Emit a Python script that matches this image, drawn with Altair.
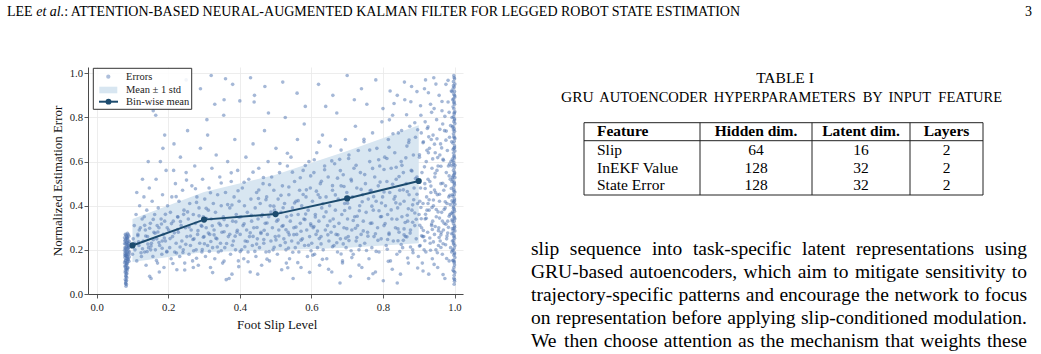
import altair as alt
import pandas as pd

SERIF = "Liberation Serif"

# ---------------- chart data ----------------
bin_centers = [0.1, 0.3, 0.5, 0.7, 0.9]
bin_means = [0.22, 0.337, 0.362, 0.433, 0.512]
band_lower = [0.145, 0.19, 0.198, 0.21, 0.23]
band_upper = [0.34, 0.462, 0.54, 0.648, 0.765]

strip_points = [(0.080,0.27),(0.084,0.26),(0.082,0.25),(0.087,0.245),(0.079,0.24),(0.085,0.235),(0.081,0.228),(0.088,0.222),(0.083,0.215),(0.079,0.21),(0.086,0.205),(0.082,0.2),(0.089,0.195),(0.080,0.19),(0.084,0.186),(0.087,0.18),(0.081,0.175),(0.085,0.17),(0.079,0.165),(0.083,0.16),(0.088,0.155),(0.080,0.15),(0.086,0.145),(0.082,0.14),(0.084,0.133),(0.079,0.127),(0.087,0.12),(0.081,0.113),(0.085,0.105),(0.080,0.097),(0.083,0.09),(0.081,0.082),(0.084,0.074),(0.080,0.066),(0.082,0.058),(0.081,0.05),(0.083,0.043),(0.082,0.035),(0.086,0.275),(0.090,0.262),(0.091,0.238),(0.090,0.212),(0.092,0.19),(0.091,0.168),(0.090,0.148),(0.078,0.255),(0.078,0.198),(0.078,0.142),(0.085,0.255),(0.089,0.231),(0.083,0.178),(0.087,0.158),(0.080,0.122),(0.084,0.112)]

strip2_points = [(0.082,0.266),(0.086,0.252),(0.080,0.243),(0.084,0.232),(0.088,0.218),(0.081,0.207),(0.085,0.193),(0.079,0.183),(0.083,0.171),(0.087,0.163),(0.081,0.152),(0.085,0.138),(0.082,0.129),(0.086,0.117),(0.080,0.104),(0.084,0.094),(0.082,0.078),(0.083,0.062),(0.081,0.047),(0.089,0.208),(0.090,0.181),(0.078,0.228),(0.079,0.175),(0.088,0.268),(0.085,0.222)]

low_points = [(0.10,0.18),(0.102,0.25),(0.105,0.31),(0.107,0.2),(0.11,0.36),(0.112,0.15),(0.115,0.27),(0.118,0.22),(0.12,0.4),(0.122,0.3),(0.125,0.17),(0.127,0.34),(0.13,0.24),(0.132,0.44),(0.134,0.19),(0.136,0.29),(0.138,0.13),(0.14,0.38),(0.142,0.26),(0.145,0.21),(0.147,0.48),(0.148,0.08),(0.15,0.32),(0.152,0.07),(0.153,0.23),(0.155,0.42),(0.157,0.17),(0.158,0.83),(0.16,0.28),(0.162,0.36),(0.164,0.2),(0.166,0.52),(0.168,0.25),(0.17,0.14),(0.172,0.39),(0.174,0.3),(0.176,0.22),(0.178,0.6),(0.18,0.34),(0.182,0.18),(0.184,0.45),(0.186,0.27),(0.188,0.12),(0.19,0.33),(0.192,0.24),(0.194,0.56),(0.196,0.19),(0.198,0.4),(0.165,0.81),(0.185,0.66),(0.112,0.46),(0.128,0.52),(0.19,0.72),(0.144,0.6),(0.175,0.1),(0.106,0.23),(0.119,0.29),(0.133,0.35),(0.151,0.2),(0.169,0.31),(0.183,0.24),(0.197,0.3)]

mid_points = [(0.201,0.29),(0.204,0.21),(0.206,0.37),(0.208,0.16),(0.21,0.44),(0.212,0.26),(0.214,0.33),(0.216,0.68),(0.218,0.19),(0.22,0.5),(0.222,0.23),(0.224,0.11),(0.226,0.35),(0.228,0.28),(0.23,0.42),(0.232,0.17),(0.234,0.62),(0.236,0.31),(0.238,0.24),(0.24,0.47),(0.242,0.2),(0.244,0.38),(0.246,0.14),(0.248,0.3),(0.25,0.55),(0.252,0.26),(0.254,0.74),(0.256,0.34),(0.258,0.18),(0.26,0.41),(0.262,0.22),(0.264,0.29),(0.266,0.49),(0.268,0.15),(0.27,0.36),(0.272,0.25),(0.274,0.58),(0.276,0.32),(0.278,0.2),(0.28,0.44),(0.282,0.27),(0.284,0.13),(0.286,0.39),(0.288,0.23),(0.29,0.66),(0.292,0.31),(0.294,0.19),(0.296,0.52),(0.298,0.35),(0.3,0.26),(0.302,0.43),(0.304,0.17),(0.306,0.3),(0.308,0.79),(0.31,0.22),(0.312,0.38),(0.314,0.48),(0.316,0.27),(0.318,0.12),(0.32,0.34),(0.322,0.57),(0.324,0.21),(0.326,0.41),(0.328,0.29),(0.33,0.16),(0.332,0.37),(0.334,0.63),(0.336,0.25),(0.338,0.45),(0.34,0.19),(0.342,0.32),(0.344,0.53),(0.346,0.23),(0.348,0.4),(0.35,0.28),(0.352,0.14),(0.354,0.35),(0.356,0.88),(0.358,0.21),(0.36,0.46),(0.362,0.065),(0.364,0.31),(0.366,0.6),(0.368,0.26),(0.37,0.07),(0.372,0.39),(0.374,0.18),(0.376,0.51),(0.378,0.09),(0.38,0.33),(0.382,0.24),(0.384,0.44),(0.386,0.7),(0.388,0.2),(0.39,0.36),(0.392,0.28),(0.394,0.56),(0.396,0.15),(0.398,0.42),(0.25,0.97),(0.29,0.93),(0.33,0.86),(0.27,0.12),(0.215,0.56),(0.31,0.72),(0.32,0.99),(0.36,0.975),(0.38,0.95),(0.4,0.875),(0.355,0.81)]

centre_points = [(0.401,0.27),(0.403,0.35),(0.405,0.2),(0.407,0.48),(0.409,0.31),(0.411,0.16),(0.413,0.4),(0.415,0.24),(0.417,0.62),(0.419,0.29),(0.421,0.37),(0.423,0.19),(0.425,0.52),(0.427,0.26),(0.429,0.1),(0.431,0.43),(0.433,0.33),(0.435,0.22),(0.437,0.68),(0.439,0.3),(0.441,0.9),(0.443,0.39),(0.445,0.17),(0.447,0.46),(0.449,0.25),(0.451,0.34),(0.453,0.57),(0.455,0.21),(0.457,0.41),(0.459,0.28),(0.461,0.13),(0.463,0.36),(0.465,0.5),(0.467,0.23),(0.469,0.74),(0.471,0.32),(0.473,0.19),(0.475,0.44),(0.477,0.27),(0.479,0.6),(0.481,0.35),(0.483,0.15),(0.485,0.4),(0.487,0.24),(0.489,0.53),(0.491,0.3),(0.493,0.2),(0.495,0.47),(0.497,0.38),(0.499,0.26),(0.501,0.66),(0.503,0.33),(0.505,0.18),(0.507,0.43),(0.509,0.29),(0.511,0.55),(0.513,0.22),(0.515,0.37),(0.517,0.11),(0.519,0.49),(0.521,0.31),(0.523,0.25),(0.525,0.41),(0.527,0.8),(0.529,0.2),(0.531,0.35),(0.533,0.58),(0.535,0.28),(0.537,0.45),(0.539,0.16),(0.541,0.33),(0.543,0.62),(0.545,0.24),(0.547,0.39),(0.549,0.07),(0.551,0.3),(0.553,0.51),(0.555,0.21),(0.557,0.42),(0.559,0.27),(0.561,0.7),(0.563,0.36),(0.565,0.19),(0.567,0.47),(0.569,0.32),(0.571,0.12),(0.573,0.4),(0.575,0.25),(0.577,0.56),(0.579,0.34),(0.581,0.22),(0.583,0.85),(0.585,0.44),(0.587,0.29),(0.589,0.17),(0.591,0.38),(0.593,0.6),(0.595,0.26),(0.597,0.48),(0.599,0.31),(0.43,0.98),(0.47,0.94),(0.52,0.96),(0.56,0.91),(0.48,0.82),(0.58,0.77),(0.45,0.09),(0.53,0.14),(0.44,0.87)]

upper_points = [(0.601,0.23),(0.603,0.42),(0.605,0.3),(0.607,0.55),(0.609,0.18),(0.611,0.36),(0.613,0.27),(0.615,0.64),(0.617,0.21),(0.619,0.45),(0.621,0.33),(0.623,0.13),(0.625,0.5),(0.627,0.26),(0.629,0.39),(0.631,0.72),(0.633,0.2),(0.635,0.35),(0.637,0.58),(0.639,0.29),(0.641,0.44),(0.643,0.16),(0.645,0.31),(0.647,0.53),(0.649,0.24),(0.651,0.4),(0.653,0.67),(0.655,0.28),(0.657,0.1),(0.659,0.47),(0.661,0.34),(0.663,0.22),(0.665,0.59),(0.667,0.38),(0.669,0.27),(0.671,0.82),(0.673,0.19),(0.675,0.43),(0.677,0.32),(0.679,0.61),(0.681,0.25),(0.683,0.49),(0.685,0.36),(0.687,0.15),(0.689,0.54),(0.691,0.3),(0.693,0.41),(0.695,0.7),(0.697,0.21),(0.699,0.46),(0.701,0.34),(0.703,0.26),(0.705,0.63),(0.707,0.39),(0.709,0.08),(0.711,0.52),(0.713,0.29),(0.715,0.44),(0.717,0.18),(0.719,0.57),(0.721,0.35),(0.723,0.76),(0.725,0.24),(0.727,0.48),(0.729,0.31),(0.731,0.65),(0.733,0.2),(0.735,0.4),(0.737,0.55),(0.739,0.27),(0.741,0.12),(0.743,0.45),(0.745,0.33),(0.747,0.69),(0.749,0.23),(0.751,0.5),(0.753,0.37),(0.755,0.86),(0.757,0.28),(0.759,0.43),(0.761,0.16),(0.763,0.6),(0.765,0.32),(0.767,0.47),(0.769,0.21),(0.771,0.73),(0.773,0.38),(0.775,0.26),(0.777,0.53),(0.779,0.1),(0.781,0.42),(0.783,0.66),(0.785,0.3),(0.787,0.49),(0.789,0.19),(0.791,0.58),(0.793,0.35),(0.795,0.25),(0.797,0.78),(0.799,0.44),(0.801,0.06),(0.803,0.31),(0.805,0.62),(0.807,0.4),(0.809,0.22),(0.811,0.51),(0.813,0.36),(0.815,0.7),(0.817,0.27),(0.819,0.46),(0.821,0.15),(0.823,0.57),(0.825,0.34),(0.827,0.81),(0.829,0.24),(0.831,0.43),(0.833,0.64),(0.835,0.3),(0.837,0.52),(0.839,0.18),(0.841,0.39),(0.843,0.73),(0.845,0.28),(0.847,0.47),(0.849,0.09),(0.851,0.6),(0.853,0.35),(0.855,0.21),(0.857,0.55),(0.859,0.42),(0.861,0.88),(0.863,0.26),(0.865,0.5),(0.867,0.67),(0.869,0.33),(0.871,0.14),(0.873,0.45),(0.875,0.76),(0.877,0.29),(0.879,0.56),(0.881,0.38),(0.883,0.2),(0.885,0.63),(0.887,0.48),(0.889,0.31),(0.891,0.71),(0.893,0.25),(0.895,0.53),(0.897,0.41),(0.899,0.17),(0.62,0.95),(0.66,0.9),(0.7,0.99),(0.74,0.93),(0.78,0.97),(0.82,0.92),(0.86,0.96),(0.64,0.85),(0.72,0.88),(0.8,0.84),(0.84,0.9),(0.88,0.94),(0.68,0.05),(0.76,0.07),(0.84,0.05)]

right_points = [(0.901,0.36),(0.902,0.62),(0.904,0.22),(0.905,0.48),(0.906,0.81),(0.908,0.3),(0.909,0.55),(0.91,0.14),(0.912,0.41),(0.913,0.69),(0.914,0.26),(0.916,0.93),(0.917,0.5),(0.918,0.34),(0.92,0.19),(0.921,0.6),(0.922,0.44),(0.924,0.75),(0.925,0.28),(0.926,0.52),(0.928,0.09),(0.929,0.38),(0.93,0.66),(0.932,0.23),(0.933,0.86),(0.934,0.46),(0.936,0.31),(0.937,0.57),(0.938,0.16),(0.94,0.72),(0.941,0.4),(0.942,0.98),(0.944,0.27),(0.945,0.53),(0.946,0.64),(0.948,0.2),(0.949,0.35),(0.95,0.79),(0.952,0.45),(0.953,0.12),(0.954,0.58),(0.956,0.3),(0.957,0.9),(0.958,0.42),(0.96,0.24),(0.961,0.68),(0.962,0.5),(0.964,0.37),(0.965,0.83),(0.966,0.18),(0.968,0.61),(0.969,0.29),(0.97,0.47),(0.972,0.74),(0.973,0.07),(0.974,0.39),(0.976,0.95),(0.977,0.55),(0.978,0.25),(0.98,0.65),(0.981,0.33),(0.982,0.87),(0.984,0.44),(0.985,0.15),(0.986,0.71),(0.988,0.52),(0.989,0.21),(0.99,0.6),(0.903,0.42),(0.915,0.2),(0.927,0.64),(0.939,0.33),(0.951,0.56),(0.963,0.28),(0.975,0.49),(0.987,0.36),(0.907,0.73),(0.919,0.97),(0.931,0.51),(0.943,0.84),(0.955,0.22),(0.967,0.77),(0.979,0.41),(0.991,0.92),(0.911,0.26),(0.923,0.38),(0.935,0.7),(0.947,0.46),(0.959,0.63),(0.971,0.32),(0.983,0.58),(0.992,0.19),(0.993,0.8),(0.994,0.45)]

edge_points = [(0.998,0.99),(1.0,0.975),(0.997,0.962),(1.001,0.951),(0.999,0.938),(0.996,0.93),(1.0,0.917),(0.998,0.905),(1.001,0.893),(0.997,0.884),(0.999,0.871),(1.0,0.86),(0.996,0.848),(0.998,0.839),(1.001,0.826),(0.999,0.815),(0.997,0.803),(1.0,0.794),(0.998,0.781),(1.001,0.772),(0.996,0.76),(0.999,0.749),(1.0,0.737),(0.997,0.726),(0.998,0.714),(1.001,0.705),(0.999,0.692),(0.996,0.683),(1.0,0.671),(0.998,0.66),(1.001,0.648),(0.997,0.639),(0.999,0.627),(1.0,0.616),(0.996,0.604),(0.998,0.595),(1.001,0.583),(0.999,0.572),(0.997,0.56),(1.0,0.551),(0.998,0.539),(1.001,0.528),(0.996,0.517),(0.999,0.506),(1.0,0.494),(0.997,0.485),(0.998,0.473),(1.001,0.462),(0.999,0.45),(0.996,0.441),(1.0,0.43),(0.998,0.418),(1.001,0.407),(0.997,0.396),(0.999,0.384),(1.0,0.375),(0.996,0.363),(0.998,0.352),(1.001,0.341),(0.999,0.33),(0.997,0.318),(1.0,0.309),(0.998,0.297),(1.001,0.286),(0.996,0.274),(0.999,0.265),(1.0,0.253),(0.997,0.242),(0.998,0.231),(1.001,0.22),(0.999,0.208),(0.996,0.199),(1.0,0.187),(0.998,0.176),(1.001,0.165),(0.997,0.153),(0.999,0.142),(1.0,0.131),(0.998,0.12),(0.996,0.108),(1.001,0.097),(0.999,0.085),(0.998,0.071),(1.0,0.058),(0.999,0.044),(0.993,0.51),(0.994,0.33),(0.992,0.69),(0.995,0.88),(0.994,0.24)]

edge2_points = [(0.999,0.981),(0.997,0.944),(1.0,0.899),(0.998,0.866),(0.999,0.821),(1.0,0.788),(0.997,0.743),(0.999,0.708),(1.0,0.663),(0.998,0.622),(0.997,0.587),(1.0,0.545),(0.999,0.501),(0.998,0.466),(1.0,0.423),(0.997,0.389),(0.999,0.346),(1.0,0.302),(0.998,0.259),(0.997,0.226),(1.0,0.181),(0.999,0.147),(0.998,0.103),(1.0,0.066),(0.996,0.412),(0.996,0.287),(0.996,0.534),(0.996,0.655),(0.995,0.372),(0.995,0.198),(0.994,0.611),(0.993,0.422),(0.992,0.273),(0.995,0.756),(0.994,0.527),(0.993,0.336),(0.991,0.478),(0.995,0.152),(0.992,0.581),(0.993,0.917)]

core_points = [(0.137,0.263),(0.412,0.318),(0.689,0.227),(0.254,0.372),(0.913,0.288),(0.571,0.244),(0.348,0.196),(0.796,0.351),(0.183,0.207),(0.632,0.409),(0.459,0.274),(0.877,0.213),(0.226,0.292),(0.745,0.286),(0.521,0.391),(0.301,0.228),(0.958,0.344),(0.604,0.176),(0.158,0.338),(0.834,0.442),(0.387,0.262),(0.713,0.165),(0.279,0.415),(0.941,0.236),(0.496,0.212),(0.652,0.331),(0.117,0.236),(0.769,0.398),(0.432,0.356),(0.889,0.367),(0.205,0.251),(0.557,0.303),(0.323,0.309),(0.981,0.276),(0.674,0.268),(0.241,0.188),(0.813,0.247),(0.473,0.427),(0.592,0.221),(0.366,0.405),(0.926,0.41),(0.148,0.298),(0.728,0.352),(0.401,0.192),(0.859,0.295),(0.538,0.268),(0.269,0.247),(0.967,0.502),(0.617,0.285),(0.192,0.361),(0.781,0.193),(0.448,0.301),(0.701,0.411),(0.312,0.276),(0.895,0.452),(0.584,0.362),(0.128,0.205),(0.823,0.381),(0.356,0.337),(0.659,0.214),(0.234,0.328),(0.952,0.187),(0.507,0.336),(0.758,0.262),(0.421,0.238),(0.867,0.259),(0.286,0.354),(0.548,0.189),(0.174,0.233),(0.936,0.317),(0.641,0.372),(0.379,0.221),(0.806,0.319),(0.467,0.247),(0.723,0.298),(0.217,0.277),(0.988,0.405),(0.598,0.318),(0.333,0.253),(0.851,0.224),(0.487,0.371),(0.696,0.253),(0.163,0.275),(0.774,0.441),(0.442,0.193),(0.908,0.264),(0.563,0.423),(0.295,0.201),(0.839,0.339),(0.622,0.251),(0.249,0.225),(0.975,0.223),(0.527,0.233),(0.736,0.219),(0.393,0.289),(0.883,0.404),(0.143,0.226),(0.667,0.449),(0.306,0.388),(0.919,0.361)]

core2_points = [(0.124,0.187),(0.356,0.282),(0.582,0.337),(0.817,0.276),(0.209,0.319),(0.447,0.226),(0.693,0.378),(0.931,0.254),(0.271,0.196),(0.509,0.263),(0.742,0.418),(0.158,0.246),(0.398,0.348),(0.627,0.227),(0.868,0.357),(0.233,0.213),(0.476,0.322),(0.711,0.196),(0.954,0.372),(0.319,0.238),(0.553,0.412),(0.786,0.243),(0.181,0.317),(0.429,0.277),(0.664,0.306),(0.902,0.217),(0.294,0.307),(0.536,0.208),(0.769,0.321),(0.141,0.192),(0.378,0.403),(0.611,0.349),(0.847,0.192),(0.262,0.263),(0.495,0.398),(0.727,0.256),(0.968,0.228),(0.337,0.213),(0.571,0.284),(0.803,0.462),(0.196,0.193),(0.452,0.433),(0.683,0.181),(0.918,0.478),(0.307,0.342),(0.544,0.357),(0.779,0.273),(0.115,0.264),(0.363,0.229),(0.599,0.196),(0.836,0.413),(0.243,0.361),(0.482,0.192),(0.717,0.333),(0.946,0.306),(0.283,0.287),(0.518,0.307),(0.754,0.197),(0.171,0.281),(0.414,0.214),(0.646,0.268),(0.883,0.325),(0.223,0.186),(0.461,0.353),(0.699,0.296),(0.937,0.392),(0.328,0.268),(0.563,0.231),(0.796,0.412),(0.152,0.217),(0.389,0.327),(0.624,0.437),(0.859,0.268),(0.258,0.304),(0.501,0.245),(0.734,0.377),(0.976,0.316),(0.346,0.312),(0.577,0.451),(0.812,0.203),(0.189,0.254),(0.437,0.261),(0.671,0.232),(0.907,0.341),(0.298,0.257),(0.529,0.291),(0.764,0.468),(0.134,0.311),(0.372,0.271),(0.607,0.306),(0.842,0.241),(0.227,0.349),(0.468,0.289),(0.705,0.242),(0.941,0.426),(0.315,0.193),(0.551,0.269),(0.789,0.377),(0.962,0.268),(0.985,0.352)]

wide_points = [(0.712,0.512),(0.853,0.583),(0.614,0.466),(0.946,0.547),(0.788,0.608),(0.537,0.485),(0.902,0.631),(0.681,0.559),(0.964,0.662),(0.827,0.497),(0.466,0.528),(0.749,0.541),(0.928,0.712),(0.583,0.582),(0.872,0.686),(0.395,0.468),(0.803,0.564),(0.657,0.603),(0.986,0.589),(0.515,0.447),(0.763,0.652),(0.891,0.523),(0.348,0.503),(0.628,0.511),(0.953,0.618),(0.725,0.583),(0.437,0.552),(0.817,0.665),(0.569,0.527),(0.934,0.489),(0.691,0.487),(0.276,0.477),(0.845,0.532),(0.608,0.608),(0.977,0.738),(0.483,0.495),(0.739,0.474),(0.864,0.617),(0.222,0.441),(0.547,0.552),(0.916,0.576),(0.673,0.525),(0.792,0.507),(0.412,0.506),(0.958,0.452),(0.637,0.563),(0.828,0.726),(0.318,0.459),(0.704,0.614),(0.897,0.744),(0.512,0.591),(0.771,0.569),(0.944,0.679),(0.586,0.472),(0.857,0.472),(0.453,0.471),(0.683,0.652),(0.985,0.535),(0.251,0.516),(0.621,0.688),(0.811,0.614),(0.923,0.651),(0.533,0.638),(0.747,0.701),(0.376,0.549),(0.881,0.557),(0.659,0.491),(0.969,0.606),(0.598,0.535),(0.837,0.574)]

floor_points = [(0.213,0.138),(0.397,0.124),(0.562,0.142),(0.733,0.131),(0.897,0.118),(0.324,0.097),(0.648,0.112),(0.815,0.148),(0.476,0.158),(0.943,0.134),(0.279,0.162),(0.595,0.098),(0.772,0.092),(0.423,0.146),(0.869,0.163),(0.968,0.088),(0.167,0.152),(0.687,0.141),(0.534,0.119),(0.912,0.104),(0.356,0.149),(0.826,0.112),(0.631,0.157),(0.978,0.161),(0.246,0.109)]

tail_points = [(0.903,0.311),(0.917,0.241),(0.929,0.427),(0.938,0.292),(0.949,0.383),(0.957,0.256),(0.966,0.331),(0.974,0.418),(0.983,0.302),(0.991,0.366),(0.906,0.392),(0.921,0.343),(0.933,0.198),(0.944,0.471),(0.955,0.287),(0.962,0.211),(0.971,0.383),(0.979,0.263),(0.987,0.447),(0.994,0.297),(0.862,0.324),(0.871,0.386),(0.884,0.187),(0.893,0.339),(0.848,0.408),(0.857,0.243),(0.876,0.276),(0.886,0.427),(0.842,0.295),(0.868,0.464),(0.905,0.853),(0.918,0.78),(0.927,0.912),(0.936,0.823),(0.948,0.951),(0.959,0.746),(0.965,0.872),(0.973,0.805),(0.982,0.968),(0.989,0.763),(0.912,0.685),(0.926,0.757),(0.939,0.612),(0.951,0.703),(0.962,0.579),(0.976,0.697),(0.985,0.823),(0.866,0.812),(0.878,0.871),(0.889,0.776),(0.852,0.741),(0.873,0.698),(0.895,0.917),(0.831,0.863),(0.818,0.789)]

x_ticks = [0.0, 0.2, 0.4, 0.6, 0.8, 1.0]
y_ticks = [0.0, 0.2, 0.4, 0.6, 0.8, 1.0]
x_title = "Foot Slip Level"
y_title = "Normalized Estimation Error"
legend_labels = ["Errors", "Mean \u00b1 1 std", "Bin-wise mean"]

# ---------------- page text ----------------
header_name = "LEE"
header_etal = "et al."
header_title = ": ATTENTION-BASED NEURAL-AUGMENTED KALMAN FILTER FOR LEGGED ROBOT STATE ESTIMATION"
page_number = "3"

table_label = "TABLE I"
caption_caps = "GRU"
caption_smallcaps = ["AUTOENCODER", "HYPERPARAMETERS", "BY", "INPUT", "FEATURE"]
table_header = ["Feature", "Hidden dim.", "Latent dim.", "Layers"]
table_features = ["Slip", "InEKF Value", "State Error"]
table_hidden = [64, 128, 128]
table_latent = [16, 32, 32]
table_layers = [2, 2, 2]

paragraph = [
    "slip sequence into task-specific latent representations using",
    "GRU-based autoencoders, which aim to mitigate sensitivity to",
    "trajectory-specific patterns and encourage the network to focus",
    "on representation before applying slip-conditioned modulation.",
    "We then choose attention as the mechanism that weights these",
]

# ---------------- style / layout ----------------
POINT = "#4c72b0"
BAND = "#d8e6f1"
LINE = "#1c4b6e"
GRID = "#e8e8e8"
SPINE = "#4a4a4a"

OX, OY = 88, 67          # plot origin in page pixels
PW, PH = 375, 227        # plot area size
W, H = 1041, 354

TIMES_W = dict(zip("abcdefghijklmnopqrstuvwxyz",
                   [444, 500, 444, 500, 444, 333, 500, 500, 278, 278, 500, 278, 778,
                    500, 500, 500, 500, 333, 389, 278, 500, 500, 722, 500, 500, 444]))
TIMES_W.update(zip("ABCDEFGHIJKLMNOPQRSTUVWXYZ",
                   [722, 667, 667, 722, 611, 556, 722, 722, 333, 389, 722, 611, 889,
                    722, 722, 556, 722, 667, 556, 611, 722, 722, 944, 722, 722, 611]))
TIMES_W.update({" ": 250, ".": 250, ",": 250, ":": 278, "-": 333})
ITAL_W = {"e": 444, "t": 278, " ": 250, "a": 500, "l": 278, ".": 250}


def tw(s, size, table=TIMES_W):
    return sum(table.get(c, 500) for c in s) * size / 1000.0


one = pd.DataFrame({"k": [0]})


def label(text, x, y, size, align="left", weight="normal", style="normal", color="#111111"):
    return alt.Chart(pd.DataFrame({"t": [str(text)]})).mark_text(
        align=align, baseline="alphabetic", font=SERIF, fontSize=size,
        fontWeight=weight, fontStyle=style, color=color
    ).encode(x=alt.value(x - OX), y=alt.value(y - OY), text="t:N")


def hline(x1, x2, y, color="#222222", w=1.0):
    return alt.Chart(one).mark_rule(color=color, strokeWidth=w).encode(
        x=alt.value(x1 - OX), x2=alt.value(x2 - OX), y=alt.value(y - OY))


def vline(x, y1, y2, color="#222222", w=1.0):
    return alt.Chart(one).mark_rule(color=color, strokeWidth=w).encode(
        x=alt.value(x - OX), y=alt.value(y1 - OY), y2=alt.value(y2 - OY))


def box(x1, x2, y1, y2, stroke="#222222", w=1.0, fill="white", fill_opacity=0.0):
    return alt.Chart(one).mark_rect(stroke=stroke, strokeWidth=w, fill=fill,
                                     fillOpacity=fill_opacity).encode(
        x=alt.value(x1 - OX), x2=alt.value(x2 - OX),
        y=alt.value(y1 - OY), y2=alt.value(y2 - OY))


# ---------------- chart ----------------
xs = alt.Scale(domain=[-0.0243, 1.0237], nice=False, zero=False)
ys = alt.Scale(domain=[0.0, 1.0285], nice=False, zero=False)

xaxis = alt.Axis(values=x_ticks, format=".1f", title=x_title, grid=True,
                 gridColor=GRID, gridWidth=0.8, domainColor=SPINE, domainWidth=1,
                 tickColor=SPINE, tickSize=4, tickWidth=0.9,
                 labelFont=SERIF, labelFontSize=10.7, labelColor="#222222",
                 labelPadding=12.5, labelBaseline="alphabetic", labelFlush=False,
                 titleFont=SERIF, titleFontSize=12.9, titleFontWeight="normal",
                 titleColor="#111111", titleX=188.7, titleY=34,
                 titleAlign="center", titleBaseline="alphabetic")
yaxis = alt.Axis(values=y_ticks, format=".1f", title=y_title, grid=True,
                 gridColor=GRID, gridWidth=0.8, domainColor=SPINE, domainWidth=1,
                 tickColor=SPINE, tickSize=4, tickWidth=0.9,
                 labelFont=SERIF, labelFontSize=10.7, labelColor="#222222",
                 labelPadding=1.5, labelFlush=False,
                 titleFont=SERIF, titleFontSize=12.9, titleFontWeight="normal",
                 titleColor="#111111", titleX=-31, titleY=113.5, titleAngle=270,
                 titleAlign="center", titleBaseline="middle")

band_df = pd.DataFrame({"x": bin_centers, "lo": band_lower, "hi": band_upper})
mean_df = pd.DataFrame({"x": bin_centers, "y": bin_means})
all_pts = (strip_points + strip2_points + low_points + mid_points + centre_points
           + upper_points + right_points + edge_points + edge2_points + core_points
           + core2_points + wide_points + floor_points + tail_points)
pts_df = pd.DataFrame({"x": [p[0] for p in all_pts], "y": [p[1] for p in all_pts]})

band = alt.Chart(band_df).mark_area(color=BAND, opacity=1).encode(
    x=alt.X("x:Q", scale=xs, axis=xaxis),
    y=alt.Y("lo:Q", scale=ys, axis=yaxis),
    y2="hi:Q")
scatter = alt.Chart(pts_df).mark_circle(size=13, color=POINT, opacity=0.5).encode(
    x=alt.X("x:Q", scale=xs, axis=xaxis),
    y=alt.Y("y:Q", scale=ys, axis=yaxis))
mean_line = alt.Chart(mean_df).mark_line(color=LINE, strokeWidth=2).encode(
    x=alt.X("x:Q", scale=xs, axis=xaxis),
    y=alt.Y("y:Q", scale=ys, axis=yaxis))
mean_pts = alt.Chart(mean_df).mark_circle(size=38, color=LINE, opacity=1).encode(
    x=alt.X("x:Q", scale=xs, axis=xaxis),
    y=alt.Y("y:Q", scale=ys, axis=yaxis))

layers = [band, scatter, mean_line, mean_pts]

# legend (manual, inside the plot, top-left)
layers.append(box(93.3, 191.7, 68.3, 109.3, stroke="#333333", w=1.0, fill="white", fill_opacity=0.85))
layers.append(alt.Chart(one).mark_circle(size=18, color=POINT, opacity=0.45).encode(
    x=alt.value(108.3 - OX), y=alt.value(76.7 - OY)))
layers.append(alt.Chart(one).mark_rect(color=BAND).encode(
    x=alt.value(99.3 - OX), x2=alt.value(117.3 - OX), y=alt.value(86.7 - OY), y2=alt.value(93.3 - OY)))
layers.append(hline(99, 118, 101.7, color=LINE, w=2))
layers.append(alt.Chart(one).mark_circle(size=34, color=LINE, opacity=1).encode(
    x=alt.value(108.5 - OX), y=alt.value(101.7 - OY)))
for lab, yy in zip(legend_labels, [80.2, 92.7, 105.2]):
    layers.append(label(lab, 126, yy, 10.5, color="#222222"))

# running header
HS = 14.0
layers.append(label(header_name, 7, 16, HS, color="#000000"))
x_etal = 7 + tw(header_name + " ", HS)
layers.append(label(header_etal, x_etal, 16, HS, style="italic", color="#000000"))
layers.append(label(header_title, x_etal + tw(header_etal, HS, ITAL_W), 16, HS, color="#000000"))
layers.append(label(page_number, 1032, 16, HS, align="right", color="#000000"))

# table title and caption
layers.append(label(table_label, 785, 83.3, 15.5, align="center", color="#000000"))
CAP_L, CAP_R, CAP_Y = 561, 1002, 101.7
cap_big, cap_small = 15.5, 14.5
x_cur = CAP_L
layers.append(label(caption_caps, x_cur, CAP_Y, cap_big, color="#000000"))
sc_widths = [tw(w, cap_small) for w in caption_smallcaps]
gap = (CAP_R - CAP_L - tw(caption_caps, cap_big) - sum(sc_widths)) / len(caption_smallcaps)
x_cur += tw(caption_caps, cap_big) + gap
for i, (wd, wwid) in enumerate(zip(caption_smallcaps, sc_widths)):
    if i == len(caption_smallcaps) - 1:
        layers.append(label(wd, CAP_R, CAP_Y, cap_small, align="right", color="#000000"))
    else:
        layers.append(label(wd, x_cur, CAP_Y, cap_small, color="#000000"))
    x_cur += wwid + gap

# table
T_L, T_R, T_T, T_B = 584, 983, 122.7, 195
layers.append(box(T_L, T_R, T_T, T_B, stroke="#222222", w=1.0))
layers.append(hline(T_L, T_R, 140.7))
for vx in [700, 812, 910]:
    layers.append(vline(vx, T_T, T_B))
col_centres = [756, 861, 946.5]
TS = 15.5
layers.append(label(table_header[0], 597, 135.5, TS, weight="bold", color="#000000"))
for hdr, cx in zip(table_header[1:], col_centres):
    layers.append(label(hdr, cx, 135.5, TS, align="center", weight="bold", color="#000000"))
for feat, hd, lt, ly, ry in zip(table_features, table_hidden, table_latent, table_layers,
                                 [155, 172.5, 190]):
    layers.append(label(feat, 597, ry, TS, color="#000000"))
    for val, cx in zip([hd, lt, ly], col_centres):
        layers.append(label(val, cx, ry, TS, align="center", color="#000000"))

# justified paragraph
P_L, P_R, PS = 531, 1027, 19.5
for li, line in enumerate(paragraph):
    yy = 255 + 23.1 * li
    words = line.split(" ")
    widths = [tw(w, PS) for w in words]
    g = (P_R - P_L - sum(widths)) / (len(words) - 1)
    xx = P_L
    for i, (wd, wwid) in enumerate(zip(words, widths)):
        if i == len(words) - 1:
            layers.append(label(wd, P_R, yy, PS, align="right", color="#000000"))
        else:
            layers.append(label(wd, xx, yy, PS, color="#000000"))
        xx += wwid + g

chart = alt.layer(*layers).properties(
    width=PW, height=PH, background="white",
    padding={"left": OX, "top": OY, "right": W - OX - PW, "bottom": H - OY - PH},
    autosize=alt.AutoSizeParams(type="none"),
).configure_view(stroke=None)

chart.save("out.html", embed_options={"renderer": "svg", "actions": False})
